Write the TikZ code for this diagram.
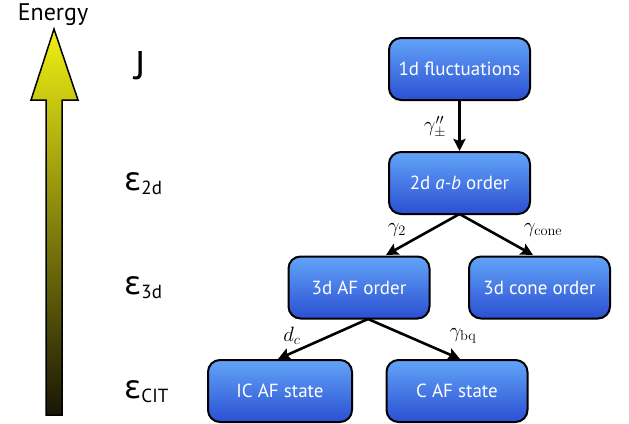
\documentclass[tikz,border=0pt]{standalone}
\usepackage[no-math]{fontspec}
\setmainfont{PT Sans}
\newfontfamily\epsfont{DejaVu Sans}
\usetikzlibrary{shadings,arrows.meta}
\definecolor{boxtop}{HTML}{62A4F8}
\definecolor{boxbot}{HTML}{2B4FD2}
\tikzset{
  statebox/.style={draw=black, line width=2pt, rounded corners=12pt,
    top color=boxtop, bottom color=boxbot, minimum width=141pt, minimum height=62pt,
    text=white, font=\fontsize{19}{22}\selectfont, inner sep=0pt},
  conn/.style={draw=black, line width=2.6pt, -{Stealth[length=12pt,width=12pt,inset=2pt]}},
  lvl/.style={anchor=west, inner sep=0pt},
  glab/.style={font=\fontsize{21}{24}\selectfont, inner sep=0pt}
}
\newcommand{\lvleps}[1]{{\epsfont\fontsize{32}{34}\selectfont ε}{\fontsize{19}{21}\selectfont\raisebox{-4pt}{#1}}}
\begin{document}
\begin{tikzpicture}[x=1pt,y=-1pt]
\useasboundingbox (0,0) rectangle (629,423);
% energy arrow
\shade[top color={rgb,255:red,240;green,240;blue,20}, bottom color={rgb,255:red,25;green,22;blue,5}, draw=black, line width=1.5pt]
  (46,415) -- (46,100) -- (31,100) -- (54,29) -- (78,100) -- (62,100) -- (62,415) -- cycle;
\node[font=\fontsize{24}{26}\selectfont] (energy) at (53,15) {Energy};
% level labels
\node[lvl, font=\fontsize{40}{42}\selectfont] (lJ) at (134,66) {J};
\node[lvl] (l2) at (124,184) {\lvleps{2d}};
\node[lvl] (l3) at (124,288) {\lvleps{3d}};
\node[lvl] (l4) at (124,392) {\lvleps{CIT}};
% boxes
\node[statebox] (b1) at (459.5,69) {1d fluctuations};
\node[statebox] (b2) at (459.5,183) {2d \textit{a-b} order};
\node[statebox] (b3) at (359,287.5) {3d AF order};
\node[statebox] (b4) at (539.5,287.5) {3d cone order};
\node[statebox, minimum width=144pt] (b5) at (280,391) {IC AF state};
\node[statebox] (b6) at (457,391) {C AF state};
% connectors
\coordinate (s2) at (459.5,214);
\coordinate (s3) at (368,319);
\draw[conn] (b1.south) -- (b2.north);
\draw[conn] (s2) -- (386,255);
\draw[conn] (s2) -- (533,255);
\draw[conn] (s3) -- (278,359);
\draw[conn] (s3) -- (460,359);
% labels
\node[glab] (g1) at (435,127) {$\gamma''_{\pm}$};
\node[glab] (g2) at (397,230) {$\gamma_2$};
\node[glab] (g3) at (543,230) {$\gamma_{\mathrm{cone}}$};
\node[glab] (g4) at (292,336) {$d_c$};
\node[glab] (g5) at (463,336) {$\gamma_{\mathrm{bq}}$};
\end{tikzpicture}
\end{document}
